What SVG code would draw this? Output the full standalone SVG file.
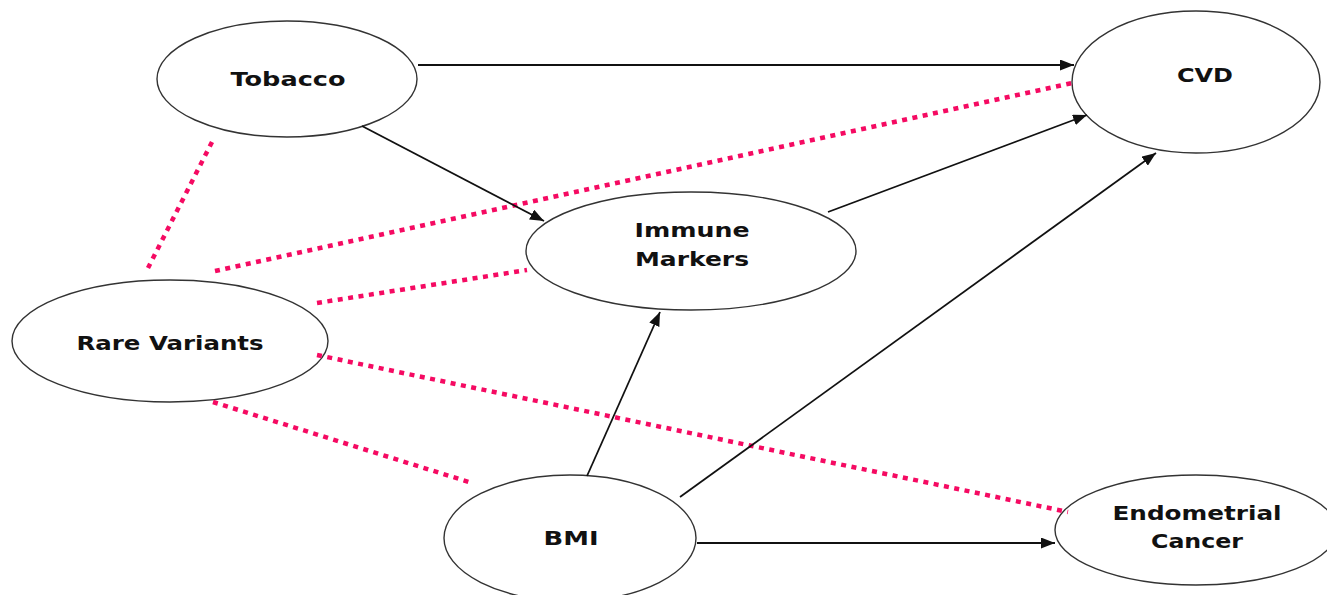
<svg xmlns="http://www.w3.org/2000/svg" width="1327" height="595" viewBox="0 0 1327 595">
<style>
.node ellipse{fill:#fff;stroke:#333;stroke-width:1.4}
.node text{font-family:"DejaVu Sans",Verdana,sans-serif;font-weight:bold;font-size:19px;fill:#111;text-anchor:middle}
.arrow{stroke:#111;stroke-width:1.8;fill:none;marker-end:url(#ah)}
.dot{stroke:#F50A62;stroke-width:4.5;stroke-dasharray:5 5.5;fill:none}
</style>
<defs>
<marker id="ah" markerUnits="userSpaceOnUse" markerWidth="15" markerHeight="11" refX="14" refY="5.5" orient="auto">
<path d="M0,0 L14,5.5 L0,11 Z" fill="#111"/>
</marker>
</defs>
<rect width="1327" height="595" fill="#fff"/>
<g id="tobacco" class="node"><ellipse cx="287" cy="79" rx="130" ry="58"/><text x="288" y="86" textLength="115" lengthAdjust="spacingAndGlyphs">Tobacco</text></g>
<g id="cvd" class="node"><ellipse cx="1196" cy="82" rx="124" ry="71"/><text x="1205" y="82" textLength="56" lengthAdjust="spacingAndGlyphs">CVD</text></g>
<g id="immune" class="node"><ellipse cx="691" cy="251" rx="165" ry="59"/><text x="692" y="237" textLength="115" lengthAdjust="spacingAndGlyphs">Immune</text><text x="692" y="266" textLength="114" lengthAdjust="spacingAndGlyphs">Markers</text></g>
<g id="rare" class="node"><ellipse cx="170" cy="341" rx="158" ry="61"/><text x="170" y="350" textLength="187" lengthAdjust="spacingAndGlyphs">Rare Variants</text></g>
<g id="bmi" class="node"><ellipse cx="570" cy="538" rx="126" ry="63"/><text x="571" y="545" textLength="55" lengthAdjust="spacingAndGlyphs">BMI</text></g>
<g id="endo" class="node"><ellipse cx="1196" cy="530" rx="141" ry="55"/><text x="1197" y="520" textLength="169" lengthAdjust="spacingAndGlyphs">Endometrial</text><text x="1197" y="548" textLength="92" lengthAdjust="spacingAndGlyphs">Cancer</text></g>
<g id="connectors">
<line class="dot" x1="212" y1="142" x2="148" y2="268"/>
<line class="dot" x1="215" y1="271" x2="1072" y2="83"/>
<line class="dot" x1="317" y1="303" x2="527" y2="270"/>
<line class="dot" x1="317" y1="355" x2="1068" y2="512"/>
<line class="dot" x1="213" y1="402" x2="472" y2="483"/>
<line class="arrow" x1="418" y1="65" x2="1074" y2="65"/>
<line class="arrow" x1="362" y1="126" x2="544" y2="221"/>
<line class="arrow" x1="828" y1="212" x2="1087" y2="115"/>
<line class="arrow" x1="587" y1="476" x2="660" y2="312"/>
<line class="arrow" x1="680" y1="497" x2="1156" y2="153"/>
<line class="arrow" x1="697" y1="543" x2="1055" y2="543"/>
</g>
</svg>
